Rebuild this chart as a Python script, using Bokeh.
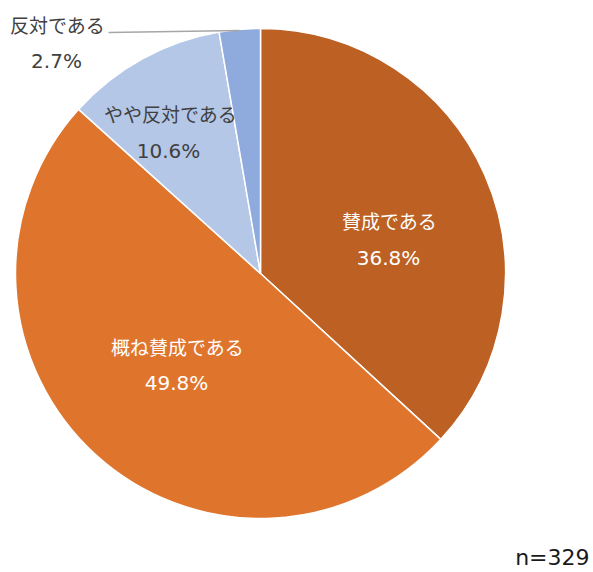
import math
from bokeh.plotting import figure
from bokeh.models import Range1d
from bokeh.core.properties import value
from bokeh.embed import file_html
from bokeh.resources import INLINE

# ---- data ----
categories = ["賛成である", "概ね賛成である", "やや反対である", "反対である"]
percents = [36.8, 49.8, 10.6, 2.7]
note = "n=329"

# ---- styles / layout ----
colors = ["#BC6123", "#DF752D", "#B4C7E7", "#8FAADC"]
label_colors = ["#FFFFFF", "#FFFFFF", "#404040", "#404040"]
W, H = 590, 570
cx, cy_top, R = 260, 273, 245
# label centers (page pixels, top-left origin): name line, value line
label_pos = [(389, 220), (177, 346), (170, 113), (57, 24)]
value_pos = [(388, 257), (176, 382), (168, 150), (56, 60)]
JP_FONT = "Noto Sans CJK JP"
NUM_FONT = "DejaVu Sans"

p = figure(width=W, height=H, output_backend="svg", toolbar_location=None,
           x_range=Range1d(0, W), y_range=Range1d(0, H), min_border=0)
p.axis.visible = False
p.grid.visible = False
p.outline_line_color = None
p.background_fill_color = "white"

total = sum(percents)
cum = 0.0
for val, col in zip(percents, colors):
    a0 = math.pi / 2 - cum / total * 2 * math.pi
    cum += val
    a1 = math.pi / 2 - cum / total * 2 * math.pi
    p.wedge(x=cx, y=H - cy_top, radius=R, start_angle=a0, end_angle=a1, direction="clock",
            fill_color=col, line_color="white", line_width=1.5)

for cat, val, (lx, ly), (vx, vy), tc in zip(categories, percents, label_pos, value_pos, label_colors):
    p.text(x=[lx], y=[H - ly], text=[cat], text_color=tc, text_font=value(JP_FONT),
           text_font_size="19px", text_align="center", text_baseline="middle")
    p.text(x=[vx], y=[H - vy], text=[f"{val:.1f}%"], text_color=tc,
           text_font=value(NUM_FONT), text_font_size="20px", text_align="center",
           text_baseline="middle")

# leader line for small slice
p.line(x=[108, 239], y=[H - 32, H - 30], line_color="#A6A6A6", line_width=1.5)

p.text(x=[589], y=[H - 557], text=[note], text_color="#1A1A1A", text_font=value(NUM_FONT),
       text_font_size="22px", text_align="right", text_baseline="middle")

open("out.html", "w").write(file_html(p, INLINE))
